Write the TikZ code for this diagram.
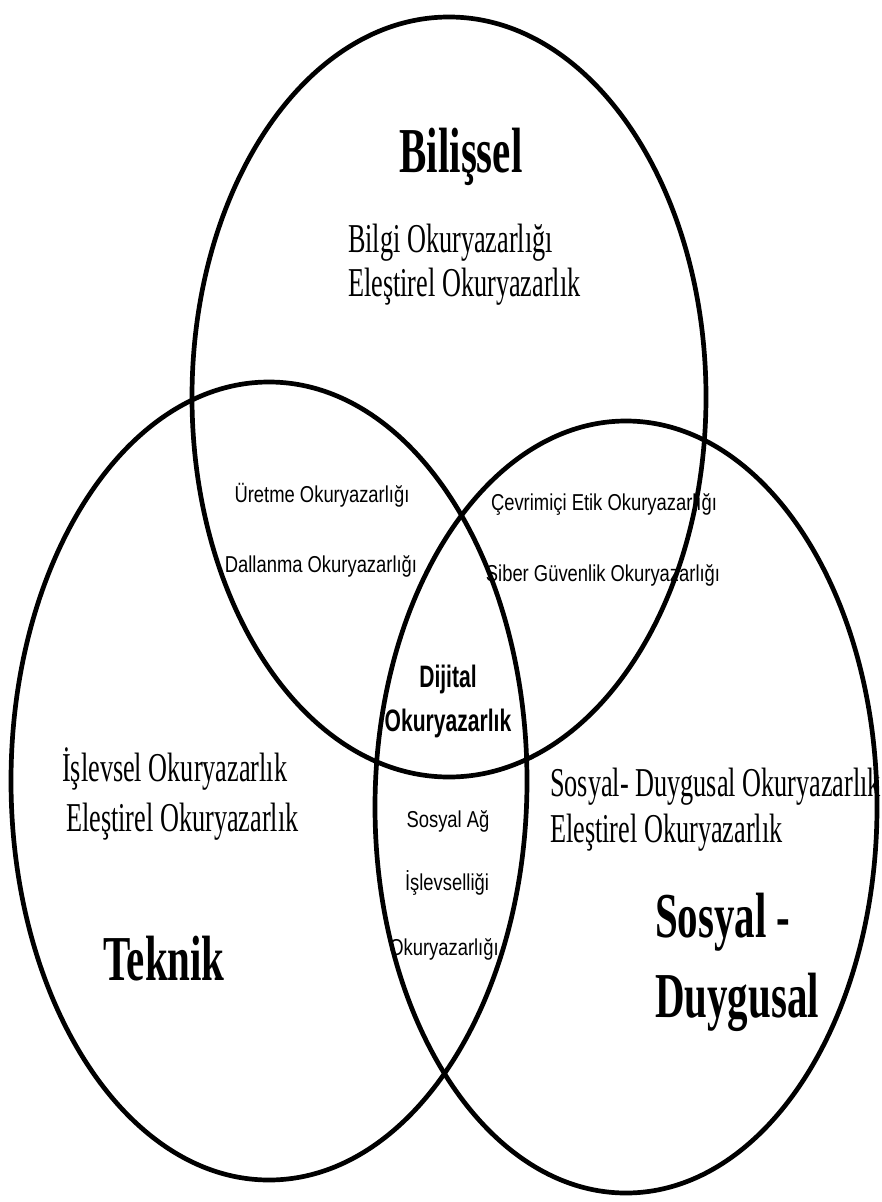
\documentclass[tikz,border=0pt]{standalone}
\usepackage{fontspec}
\setmainfont{Liberation Serif}
\setsansfont{Liberation Sans}
\tikzset{ring/.style = {line width = 4.7pt},
  title/.style = {font = \fontsize{64}{64}\selectfont\bfseries, xscale = 0.64, inner sep = 0},
  item/.style = {font = \fontsize{41}{41}\selectfont, xscale = 0.64, anchor = base west, inner sep = 0},
  small/.style = {font = \sffamily\fontsize{23}{23}\selectfont, xscale = 0.8, inner sep = 0},
  core/.style = {font = \sffamily\bfseries\fontsize{31}{44}\selectfont, xscale = 0.68, align = center, inner sep = 0}}

\begin{document}
\begin{tikzpicture}[x = 1pt, y = -1pt]
  \useasboundingbox (0, 0) rectangle (881, 1202);

  \coordinate (cog) at (449, 397);
  \coordinate (tec) at (269, 781);
  \coordinate (soc) at (626, 807);

  \draw [ring] (cog) ellipse [x radius = 257, y radius = 380];
  \draw [ring] (tec) ellipse [x radius = 258, y radius = 399];
  \draw [ring] (soc) ellipse [x radius = 251, y radius = 386];

  % Bilissel
  \node [title, anchor = base] (cogtitle) at (461, 172) {Bilişsel};
  \node [item] (cogone) at (348, 252) {Bilgi Okuryazarlığı};
  \node [item] (cogtwo) at (348, 296) {Eleştirel Okuryazarlık};

  % Teknik
  \node [title, anchor = base] (tectitle) at (164, 980) {Teknik};
  \node [item] (tecone) at (62, 781) {İşlevsel Okuryazarlık};
  \node [item] (tectwo) at (66, 831) {Eleştirel Okuryazarlık};

  % Sosyal - Duygusal
  \node [title, anchor = base west] (soctitle) at (655, 937) {Sosyal -};
  \node [title, anchor = base west] (soctitletwo) at (655, 1017) {Duygusal};
  \node [item] (socone) at (550, 796) {Sosyal- Duygusal Okuryazarlık};
  \node [item] (soctwo) at (550, 842) {Eleştirel Okuryazarlık};

  % overlaps
  \node [small] (cogtecone) at (322, 495) {Üretme Okuryazarlığı};
  \node [small] (cogtectwo) at (321, 566) {Dallanma Okuryazarlığı};
  \node [small] (cogsocone) at (604, 504) {Çevrimiçi Etik Okuryazarlığı};
  \node [small] (cogsoctwo) at (603, 575) {Siber Güvenlik Okuryazarlığı};
  \node [small] (tecsocone) at (448, 821) {Sosyal Ağ};
  \node [small] (tecsoctwo) at (447, 883) {İşlevselliği};
  \node [small] (tecsocthree) at (444, 949) {Okuryazarlığı};

  \node [core] (centre) at (448, 701) {Dijital\\Okuryazarlık};
\end{tikzpicture}
\end{document}
